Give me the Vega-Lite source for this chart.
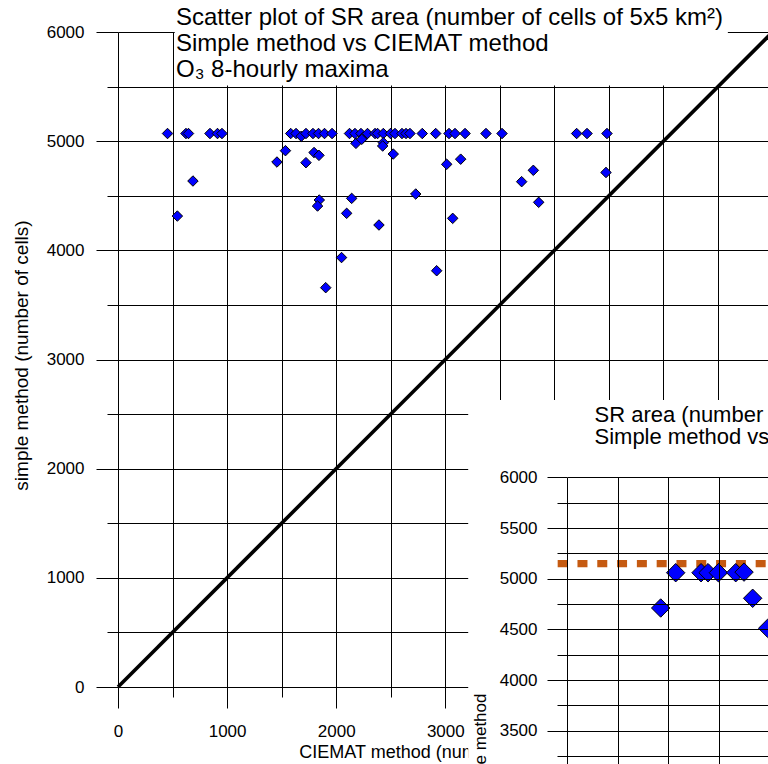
{
  "$schema": "https://vega.github.io/schema/vega-lite/v6.json",
  "width": 650,
  "height": 655,
  "autosize": {"type": "none"},
  "padding": {"left": 118, "top": 32, "right": 0, "bottom": 77},
  "background": "white",
  "config": {
    "view": {"stroke": null},
    "font": "Liberation Sans",
    "axis": {
      "labelFont": "Liberation Sans",
      "titleFont": "Liberation Sans",
      "labelColor": "#000",
      "titleColor": "#000",
      "titleFontWeight": "normal",
      "tickColor": "#000",
      "tickWidth": 1,
      "gridColor": "#000",
      "gridOpacity": 1,
      "gridWidth": 1,
      "domain": false,
      "labelFlush": false,
      "labelOverlap": false,
      "labelBound": false
    }
  },
  "title": {
    "text": [
      "Scatter plot of SR area (number of cells of 5x5 km²)",
      "Simple method vs CIEMAT method",
      "O₃ 8-hourly maxima"
    ],
    "anchor": "start",
    "frame": "group",
    "dx": 58,
    "offset": -58.8,
    "baseline": "top",
    "lineHeight": 25.7,
    "fontSize": 24,
    "font": "Liberation Sans",
    "fontWeight": "normal",
    "color": "#000"
  },
  "datasets": {
    "main": [
      {"ciemat": 454, "simple": 5070}, {"ciemat": 623, "simple": 5070}, {"ciemat": 646, "simple": 5070},
      {"ciemat": 843, "simple": 5070}, {"ciemat": 912, "simple": 5070}, {"ciemat": 953, "simple": 5070},
      {"ciemat": 1583, "simple": 5070}, {"ciemat": 1632, "simple": 5070}, {"ciemat": 1680, "simple": 5045},
      {"ciemat": 1723, "simple": 5070}, {"ciemat": 1787, "simple": 5070}, {"ciemat": 1838, "simple": 5070},
      {"ciemat": 1893, "simple": 5070}, {"ciemat": 1962, "simple": 5070}, {"ciemat": 2122, "simple": 5070},
      {"ciemat": 2172, "simple": 5070}, {"ciemat": 2227, "simple": 5070}, {"ciemat": 2248, "simple": 5035},
      {"ciemat": 2287, "simple": 5070}, {"ciemat": 2356, "simple": 5070}, {"ciemat": 2379, "simple": 5070},
      {"ciemat": 2432, "simple": 5070}, {"ciemat": 2498, "simple": 5070}, {"ciemat": 2539, "simple": 5070},
      {"ciemat": 2603, "simple": 5070}, {"ciemat": 2640, "simple": 5070}, {"ciemat": 2676, "simple": 5070},
      {"ciemat": 2789, "simple": 5070}, {"ciemat": 2912, "simple": 5070}, {"ciemat": 3034, "simple": 5070},
      {"ciemat": 3089, "simple": 5070}, {"ciemat": 3181, "simple": 5070}, {"ciemat": 3373, "simple": 5070},
      {"ciemat": 3520, "simple": 5070}, {"ciemat": 4204, "simple": 5070}, {"ciemat": 4299, "simple": 5070},
      {"ciemat": 4482, "simple": 5070},
      {"ciemat": 1535, "simple": 4913}, {"ciemat": 1457, "simple": 4809}, {"ciemat": 1723, "simple": 4803},
      {"ciemat": 1797, "simple": 4896}, {"ciemat": 1842, "simple": 4870}, {"ciemat": 2181, "simple": 4980},
      {"ciemat": 2234, "simple": 5017}, {"ciemat": 2432, "simple": 4986}, {"ciemat": 2426, "simple": 4956},
      {"ciemat": 2523, "simple": 4882}, {"ciemat": 687, "simple": 4635}, {"ciemat": 544, "simple": 4314},
      {"ciemat": 1845, "simple": 4461}, {"ciemat": 1829, "simple": 4406}, {"ciemat": 2142, "simple": 4476},
      {"ciemat": 2096, "simple": 4339}, {"ciemat": 2392, "simple": 4232}, {"ciemat": 2049, "simple": 3934},
      {"ciemat": 1904, "simple": 3658}, {"ciemat": 2729, "simple": 4516}, {"ciemat": 3013, "simple": 4788},
      {"ciemat": 3141, "simple": 4835}, {"ciemat": 3068, "simple": 4293}, {"ciemat": 2921, "simple": 3813},
      {"ciemat": 3700, "simple": 4629}, {"ciemat": 3807, "simple": 4733}, {"ciemat": 3856, "simple": 4440},
      {"ciemat": 4473, "simple": 4713}
    ],
    "inset": [
      {"ciemat": 4424, "simple": 4711}, {"ciemat": 4572, "simple": 5059}, {"ciemat": 4822, "simple": 5059},
      {"ciemat": 4891, "simple": 5059}, {"ciemat": 4993, "simple": 5059}, {"ciemat": 5164, "simple": 5059},
      {"ciemat": 5246, "simple": 5065}, {"ciemat": 5331, "simple": 4807}, {"ciemat": 5479, "simple": 4511}
    ]
  },
  "resolve": {"scale": {"x": "independent", "y": "independent"}},
  "layer": [
    {
      "data": {"values": [{}]},
      "mark": {"type": "rect", "fill": "white", "strokeWidth": 0},
      "encoding": {
        "x": {"datum": 520, "type": "quantitative", "scale": {"domain": [0, 5958], "nice": false, "zero": false}, "axis": null},
        "x2": {"datum": 5590},
        "y": {"datum": 5510, "type": "quantitative", "scale": {"domain": [0, 6000], "nice": false, "zero": false}, "axis": null},
        "y2": {"datum": 6010}
      }
    },
    {
      "data": {"values": [{}]},
      "mark": {"type": "rect", "fill": "white", "strokeWidth": 0},
      "encoding": {
        "x": {"datum": 3210, "type": "quantitative", "scale": {"domain": [0, 5958], "nice": false, "zero": false}, "axis": null},
        "x2": {"datum": 6600},
        "y": {"datum": 2629, "type": "quantitative", "scale": {"domain": [0, 6000], "nice": false, "zero": false}, "axis": null},
        "y2": {"datum": -1000}
      }
    },
    {
      "data": {"values": [{}]},
      "mark": {"type": "rule", "color": "#000", "strokeWidth": 3.6},
      "encoding": {
        "x": {"datum": 0, "type": "quantitative", "scale": {"domain": [0, 5958], "nice": false, "zero": false}, "axis": null},
        "x2": {"datum": 6000},
        "y": {"datum": 0, "type": "quantitative", "scale": {"domain": [0, 6000], "nice": false, "zero": false}, "axis": null},
        "y2": {"datum": 6000}
      }
    },
    {
      "data": {"name": "main"},
      "mark": {"type": "point", "shape": "diamond", "filled": true, "fill": "#0000ff", "stroke": "#000", "strokeWidth": 1, "size": 110, "opacity": 1},
      "encoding": {
        "x": {
          "field": "ciemat", "type": "quantitative",
          "scale": {"domain": [0, 5958], "nice": false, "zero": false},
          "axis": {
            "orient": "bottom",
            "values": [0, 500, 1000, 1500, 2000, 2500, 3000, 3500, 4000, 4500, 5000, 5500],
            "grid": true,
            "tickSize": 21,
            "tickDash": {"condition": {"test": "datum.value % 1000 !== 0", "value": [10, 30]}, "value": [30, 0]},
            "format": "d",
            "labelExpr": "datum.value % 1000 === 0 ? datum.label : ''",
            "labelFontSize": 17,
            "labelPadding": 15,
            "title": "CIEMAT method (number of cells)",
            "titleFontSize": 18,
            "titleX": 316,
            "titleY": 56,
            "titleBaseline": "top",
            "titleAlign": "center",
            "zindex": 0
          }
        },
        "y": {
          "field": "simple", "type": "quantitative",
          "scale": {"domain": [0, 6000], "nice": false, "zero": false},
          "axis": {
            "orient": "left",
            "values": [0, 500, 1000, 1500, 2000, 2500, 3000, 3500, 4000, 4500, 5000, 5500, 6000],
            "grid": true,
            "tickSize": 22,
            "tickDash": {"condition": {"test": "datum.value % 1000 !== 0", "value": [11, 30]}, "value": [30, 0]},
            "format": "d",
            "labelExpr": "datum.value % 1000 === 0 ? datum.label : ''",
            "labelFontSize": 17,
            "labelPadding": 12,
            "title": "simple method (number of cells)",
            "titleFontSize": 19,
            "titleX": -87,
            "titleY": 323,
            "titleAngle": 270,
            "titleBaseline": "bottom",
            "titleAlign": "center",
            "zindex": 0
          }
        }
      }
    },
    {
      "data": {"values": [{}]},
      "mark": {"type": "rule", "color": "#c55a11", "strokeWidth": 7.3, "strokeDash": [10, 9.8], "strokeCap": "butt"},
      "encoding": {
        "x": {"datum": 3408, "type": "quantitative", "scale": {"domain": [3500, 6000], "range": [449, 702.5], "nice": false, "zero": false}, "axis": null},
        "x2": {"datum": 6000},
        "y": {"datum": 5148, "type": "quantitative", "scale": {"domain": [3000, 6000], "range": [749.5, 445.3], "nice": false, "zero": false}, "axis": null}
      }
    },
    {
      "data": {"name": "inset"},
      "mark": {"type": "point", "shape": "diamond", "filled": true, "fill": "#0000ff", "stroke": "#000", "strokeWidth": 1, "size": 340, "opacity": 1},
      "encoding": {
        "x": {
          "field": "ciemat", "type": "quantitative",
          "scale": {"domain": [3500, 6000], "range": [449, 702.5], "nice": false, "zero": false},
          "axis": {
            "orient": "top",
            "offset": -445.3,
            "values": [3500, 4000, 4500, 5000, 5500, 6000],
            "grid": true,
            "ticks": false,
            "labels": false,
            "title": ["SR area (number of cells of 5x5 km²)", "Simple method vs CIEMAT method"],
            "titleFontSize": 22,
            "titleLineHeight": 22.3,
            "titleAlign": "left",
            "titleBaseline": "top",
            "titleAngle": 0,
            "titleX": 476,
            "titleY": -72.6,
            "zindex": 1
          }
        },
        "y": {
          "field": "simple", "type": "quantitative",
          "scale": {"domain": [3000, 6000], "range": [749.5, 445.3], "nice": false, "zero": false},
          "axis": {
            "orient": "left",
            "offset": -449,
            "values": [3000, 3250, 3500, 3750, 4000, 4250, 4500, 4750, 5000, 5250, 5500, 5750, 6000],
            "grid": true,
            "tickSize": 20,
            "tickDash": {"condition": {"test": "datum.value % 500 !== 0", "value": [10, 30]}, "value": [30, 0]},
            "format": "d",
            "labelExpr": "datum.value % 500 === 0 ? datum.label : ''",
            "labelFontSize": 17,
            "labelPadding": 10,
            "title": "simple method",
            "titleFontSize": 17,
            "titleX": -78,
            "titleY": 716.3,
            "titleAngle": 270,
            "titleBaseline": "bottom",
            "titleAlign": "center",
            "zindex": 1
          }
        }
      }
    }
  ]
}
